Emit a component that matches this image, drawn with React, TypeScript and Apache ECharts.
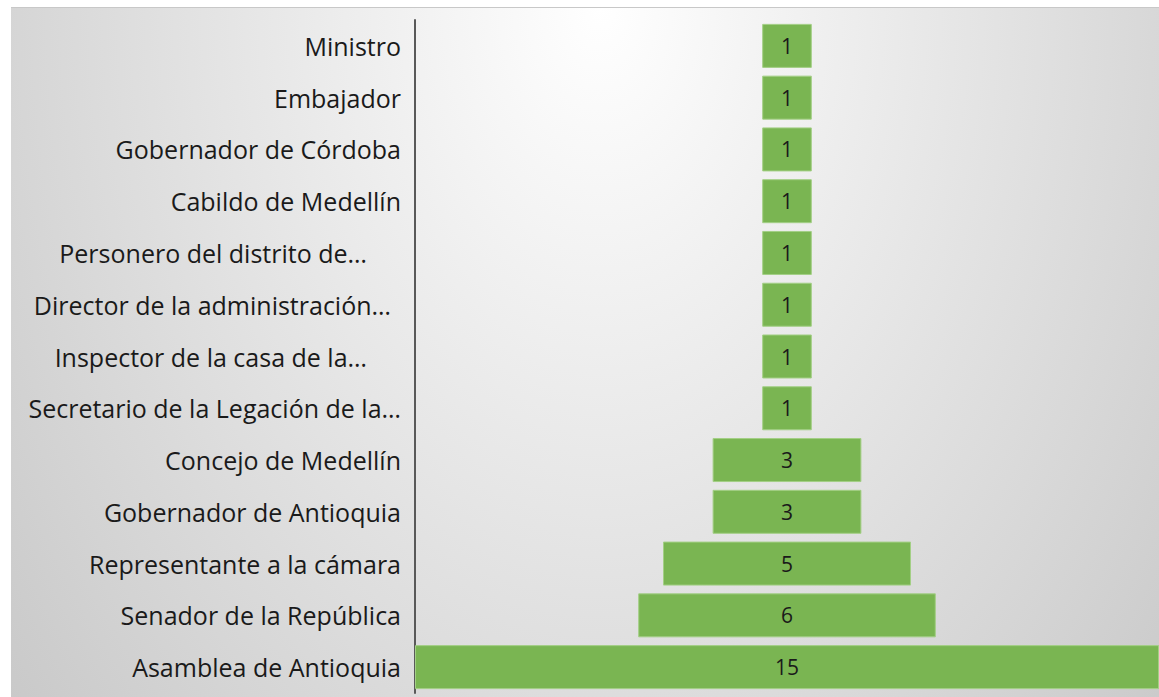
import React, { useEffect, useRef } from "react";
import * as echarts from "echarts";

const categories = [
  "Ministro",
  "Embajador",
  "Gobernador de Córdoba",
  "Cabildo de Medellín",
  "Personero del distrito de…",
  "Director de la administración…",
  "Inspector de la casa de la…",
  "Secretario de la Legación de la…",
  "Concejo de Medellín",
  "Gobernador de Antioquia",
  "Representante a la cámara",
  "Senador de la República",
  "Asamblea de Antioquia",
];
const values = [1, 1, 1, 1, 1, 1, 1, 1, 3, 3, 5, 6, 15];
const labelRightPad = [0, 0, 0, 0, 34, 10, 34, 0, 0, 0, 0, 0, 0];
const maxValue = 15;

export default function App() {
  const ref = useRef<HTMLDivElement>(null);
  useEffect(() => {
    if (!ref.current) return;
    const chart = echarts.init(ref.current, undefined, { renderer: "svg" });
    const font = "'Open Sans', sans-serif";
    const offsets = values.map((v) => (maxValue - v) / 2);
    const sx = 0.7;
    chart.setOption({
      animation: false,
      backgroundColor: "#ffffff",
      graphic: [
        {
          type: "rect",
          x: 11,
          y: 7,
          scaleX: sx,
          z: -10,
          silent: true,
          shape: { x: 0, y: 0, width: 1148 / sx, height: 690 },
          style: {
            fill: new echarts.graphic.RadialGradient(
              (600 - 11) / sx,
              0,
              1113,
              [
                { offset: 0, color: "#ffffff" },
                { offset: 1, color: "#c8c8c8" },
              ],
              true
            ),
          },
        },
        {
          type: "line",
          z: -9,
          silent: true,
          shape: { x1: 11, y1: 7.5, x2: 1159, y2: 7.5 },
          style: { stroke: "#c8c8c8", lineWidth: 1 },
        },
      ],
      grid: { left: 415, right: -2, top: 20, bottom: 4, containLabel: false },
      xAxis: {
        type: "value",
        min: 0,
        max: maxValue,
        show: false,
      },
      yAxis: {
        type: "category",
        inverse: true,
        data: categories.map((c, i) => ({
          value: c,
          textStyle: { padding: [0, labelRightPad[i], 0, 0] },
        })),
        axisLine: { show: true, lineStyle: { color: "#595959", width: 2 } },
        axisTick: { show: false },
        axisLabel: {
          margin: 14,
          fontFamily: font,
          fontSize: 25,
          color: "#1a1a1a",
        },
      },
      series: [
        {
          type: "bar",
          stack: "f",
          data: offsets,
          itemStyle: { color: "transparent" },
          barCategoryGap: "15%",
          silent: true,
        },
        {
          type: "bar",
          stack: "f",
          data: values,
          barCategoryGap: "15%",
          itemStyle: { color: "#7ab552", borderColor: "#a3cf85", borderWidth: 1 },
          label: {
            show: true,
            position: "inside",
            fontFamily: font,
            fontSize: 21,
            color: "#1a1a1a",
          },
        },
      ],
    });
    return () => chart.dispose();
  }, []);
  return <div ref={ref} style={{ width: 1159, height: 697, position: "absolute", left: 0, top: 0 }} />;
}
